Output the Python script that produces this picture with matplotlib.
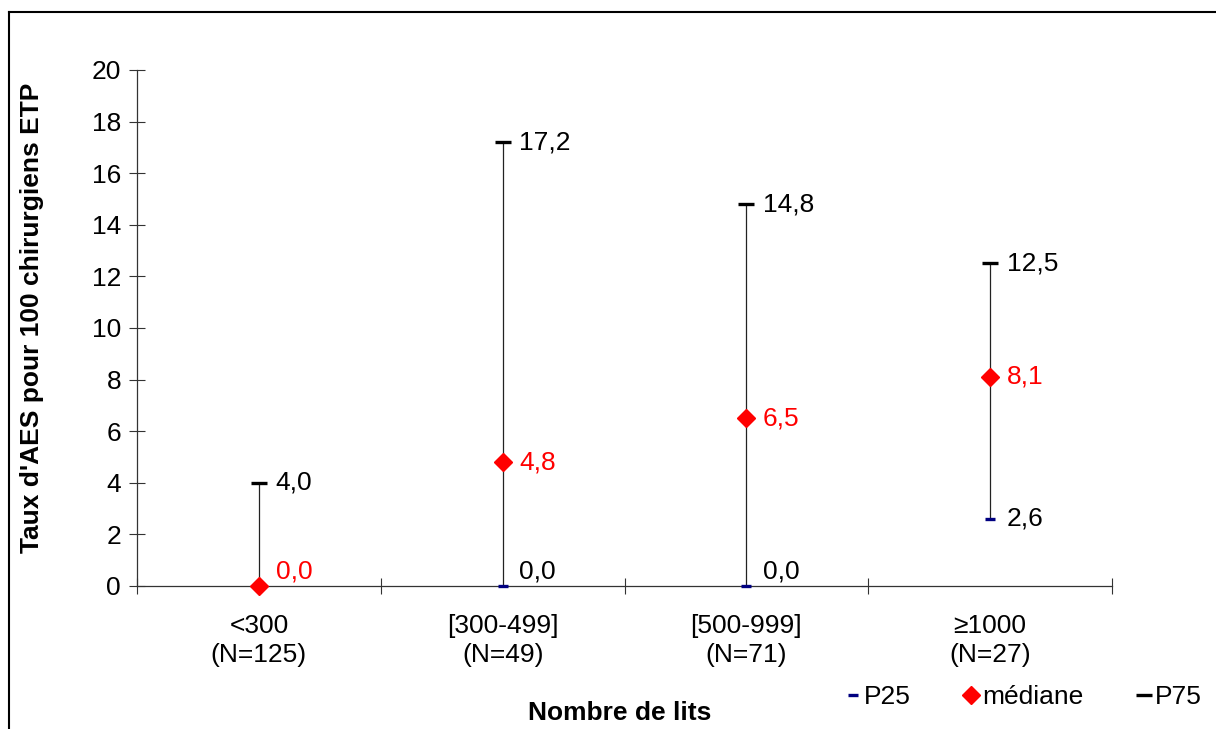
import matplotlib
matplotlib.use("Agg")
import matplotlib.pyplot as plt
from matplotlib.lines import Line2D

# Données
categories = ["<300\n(N=125)", "[300-499]\n(N=49)", "[500-999]\n(N=71)", "≥1000\n(N=27)"]
p25 = [0.0, 0.0, 0.0, 2.6]
mediane = [0.0, 4.8, 6.5, 8.1]
p75 = [4.0, 17.2, 14.8, 12.5]
# étiquettes P25 affichées (la première est cachée sous la médiane)
p25_affiche = [False, True, True, True]

plt.rcParams['font.family'] = ['Liberation Sans', 'DejaVu Sans']
plt.rcParams['font.size'] = 19

fig = plt.figure(figsize=(12.16, 7.29), dpi=100)
ax = fig.add_axes([0.1127, 0.1962, 0.8018, 0.7078])

x = list(range(1, len(categories) + 1))

def fmt(v):
    return f"{v:.1f}".replace(".", ",")

for i, xi in enumerate(x):
    ax.plot([xi, xi], [p25[i], p75[i]], color='#222222', lw=0.9, zorder=2)

ax.plot(x, p25, ls='none', marker='_', ms=7.5, mew=2.4, color='#000080', zorder=3, clip_on=False)
ax.plot(x, p75, ls='none', marker='_', ms=12, mew=2.4, color='black', zorder=3)
ax.plot(x, mediane, ls='none', marker='D', ms=9.5, color='#ff0000', zorder=4, clip_on=False)

def etiquette(xi, v, couleur):
    if v == 0:
        ax.annotate(fmt(v), (xi, v), xytext=(12, 2), textcoords='offset points',
                    ha='left', va='bottom', color=couleur, fontsize=19)
    else:
        ax.annotate(fmt(v), (xi, v), xytext=(12, 0), textcoords='offset points',
                    ha='left', va='center', color=couleur, fontsize=19)

for i, xi in enumerate(x):
    etiquette(xi, p75[i], 'black')
    etiquette(xi, mediane[i], '#ff0000')
    if p25_affiche[i]:
        etiquette(xi, p25[i], 'black')

ax.set_xlim(0.5, len(categories) + 0.5)
ax.set_ylim(0, 20)
ax.set_yticks(range(0, 21, 2))
ax.set_xticks([i + 0.5 for i in range(0, len(categories) + 1)])
ax.set_xticklabels([])
ax.set_xticks(x, minor=True)
ax.set_xticklabels(categories, minor=True, linespacing=1.3)
ax.tick_params(axis='x', which='minor', length=0, pad=20, labelsize=19)
ax.tick_params(axis='x', which='major', direction='inout', length=11, width=0.8, color='#333333')
ax.tick_params(axis='y', direction='inout', length=11, width=0.8, color='#333333', pad=6, labelsize=19)

for s in ['top', 'right']:
    ax.spines[s].set_visible(False)
for s in ['left', 'bottom']:
    ax.spines[s].set_color('#333333')
    ax.spines[s].set_linewidth(0.9)

fig.text(0.026, 0.564, "Taux d'AES pour 100 chirurgiens ETP", rotation=90,
         ha='center', va='center', fontsize=19, fontweight='bold')
fig.text(0.51, 0.022, "Nombre de lits", ha='center', va='center',
         fontsize=19, fontweight='bold')

handles = [
    Line2D([], [], ls='none', marker='_', ms=7.5, mew=2.4, color='#000080'),
    Line2D([], [], ls='none', marker='D', ms=9.5, color='#ff0000'),
    Line2D([], [], ls='none', marker='_', ms=12, mew=2.4, color='black'),
]
fig.legend(handles, ["P25", "médiane", "P75"], loc='center right',
           bbox_to_anchor=(0.988, 0.044), ncol=3, frameon=False, fontsize=19,
           borderpad=0, borderaxespad=0,
           handlelength=0.6, handletextpad=0.1, columnspacing=2.0)

# cadre
fig.add_artist(Line2D([0.0074, 1.0], [0.9835, 0.9835], color='black', lw=1.5))
fig.add_artist(Line2D([0.0074, 0.0074], [0.0, 0.9835], color='black', lw=1.5))

fig.savefig("out.png", dpi=100)
